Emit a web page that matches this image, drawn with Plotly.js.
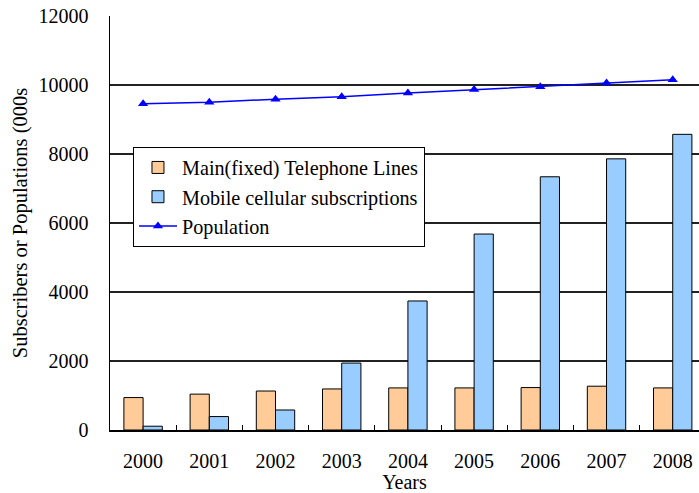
<!DOCTYPE html>
<html>
<head>
<meta charset="utf-8">
<script src="https://cdn.plot.ly/plotly-3.0.1.min.js"></script>
<style>html,body{margin:0;padding:0;background:#fff;}#chart{width:699px;height:493px;}</style>
</head>
<body>
<div id="chart"></div>
<script>
const years = ['2000','2001','2002','2003','2004','2005','2006','2007','2008'];
const fixedLines = [940, 1040, 1130, 1190, 1220, 1220, 1230, 1270, 1220];
const mobileSubs = [110, 390, 580, 1940, 3740, 5680, 7340, 7860, 8570];
const population = [9460, 9500, 9590, 9660, 9770, 9870, 9950, 10060, 10150];

const FONT = 'Liberation Serif, Times New Roman, serif';

const traces = [
  {type:'bar', name:'Main(fixed) Telephone Lines', x:years, y:fixedLines,
   marker:{color:'#FFCC99', line:{color:'#000', width:1}}},
  {type:'bar', name:'Mobile cellular subscriptions', x:years, y:mobileSubs,
   marker:{color:'#99CCFF', line:{color:'#000', width:1}}},
  {type:'scatter', mode:'lines+markers', name:'Population', x:years, y:population,
   line:{color:'#0000FF', width:1.5},
   marker:{symbol:'triangle-up', size:9, color:'#0000FF'}}
];

const layout = {
  width:699, height:493,
  margin:{l:110, r:0, t:16, b:63},
  paper_bgcolor:'#fff', plot_bgcolor:'#fff',
  font:{family:FONT, size:20, color:'#000'},
  barmode:'group', bargap:0.42, bargroupgap:0,
  showlegend:true,
  legend:{x:0.039, y:0.684, xanchor:'left', yanchor:'top',
          bgcolor:'#fff', bordercolor:'#000', borderwidth:1,
          font:{family:FONT, size:20.2, color:'#000'}, traceorder:'normal',
          tracegroupgap:0, itemwidth:38},
  xaxis:{type:'category', range:[-0.5, 8.397], showgrid:false,
         showline:true, linecolor:'#000', linewidth:1.5,
         ticks:'inside', tickson:'boundaries', ticklen:5, tickcolor:'#000',
         ticklabelstandoff:12,
         title:{text:'Years', font:{family:FONT, size:20}, standoff:8}},
  yaxis:{range:[0,12000], dtick:2000, tick0:0, tickformat:'d',
         showgrid:true, gridcolor:'#222', gridwidth:1.3,
         showline:true, linecolor:'#000', linewidth:1.5, zeroline:false,
         ticks:'', ticklabelstandoff:16,
         title:{text:'Subscribers or Populations (000s', font:{family:FONT, size:20.5}, standoff:5}}
};

Plotly.newPlot('chart', traces, layout, {displayModeBar:false, staticPlot:true});
</script>
</body>
</html>
